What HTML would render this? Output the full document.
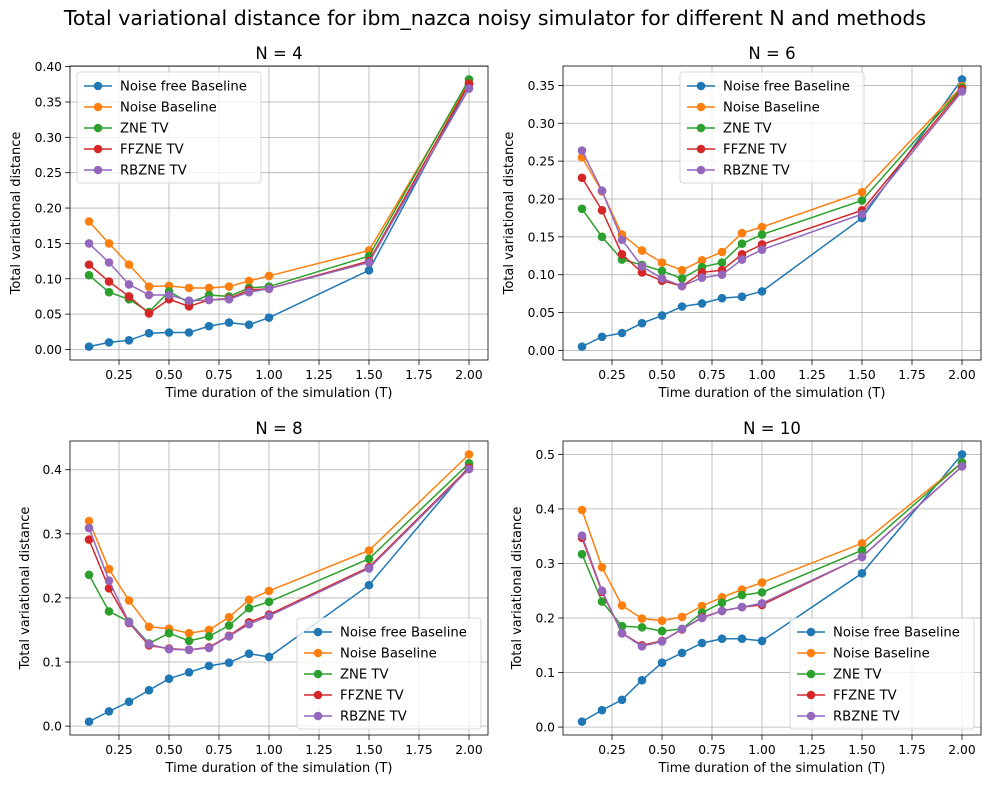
<!DOCTYPE html>
<html><head><meta charset="utf-8"><style>
body{margin:0;background:#fff;font-family:"Liberation Sans","DejaVu Sans",sans-serif;}
svg text{font-family:"DejaVu Sans","Liberation Sans",sans-serif;}
</style></head><body>
<svg id="fig" width="990" height="788" xmlns="http://www.w3.org/2000/svg">
<rect width="990" height="788" fill="#fff"/>
<text x="495" y="25" text-anchor="middle" font-size="20.5" fill="#000">Total variational distance for ibm_nazca noisy simulator for different N and methods</text>
</svg>
<script>
const xs = [0.1,0.2,0.3,0.4,0.5,0.6,0.7,0.8,0.9,1.0,1.5,2.0];
const seriesNames = ["Noise free Baseline","Noise Baseline","ZNE TV","FFZNE TV","RBZNE TV"];
const colors = ["#1f77b4","#ff7f0e","#2ca02c","#d62728","#9467bd"];
const n4_nf  = [.004,.010,.013,.023,.024,.024,.033,.038,.035,.045,.112,.375];
const n4_nb  = [.181,.150,.120,.089,.090,.087,.087,.089,.097,.104,.140,.378];
const n4_zne = [.105,.081,.071,.053,.082,.066,.077,.075,.087,.089,.132,.382];
const n4_ff  = [.120,.096,.075,.051,.071,.061,.070,.072,.084,.086,.125,.376];
const n4_rb  = [.150,.123,.092,.077,.077,.069,.070,.071,.081,.086,.123,.369];
const n6_nf  = [.005,.018,.023,.036,.046,.058,.062,.069,.071,.078,.175,.358];
const n6_nb  = [.255,.210,.153,.132,.116,.106,.119,.130,.155,.163,.209,.349];
const n6_zne = [.187,.150,.120,.113,.105,.095,.110,.116,.141,.153,.198,.347];
const n6_ff  = [.228,.185,.127,.103,.092,.085,.103,.106,.127,.140,.185,.345];
const n6_rb  = [.264,.211,.146,.111,.095,.085,.096,.100,.120,.133,.180,.342];
const n8_nf  = [.007,.023,.038,.056,.074,.084,.094,.099,.113,.108,.220,.405];
const n8_nb  = [.320,.245,.196,.155,.152,.145,.150,.170,.197,.211,.274,.424];
const n8_zne = [.236,.179,.163,.129,.145,.133,.140,.157,.184,.194,.261,.410];
const n8_ff  = [.291,.215,.161,.126,.121,.119,.123,.141,.162,.174,.248,.403];
const n8_rb  = [.309,.227,.162,.128,.120,.119,.122,.140,.159,.172,.246,.401];
const n10_nf  = [.010,.031,.050,.086,.118,.136,.154,.162,.162,.158,.282,.500];
const n10_nb  = [.398,.293,.223,.199,.195,.202,.222,.238,.252,.265,.337,.485];
const n10_zne = [.317,.230,.185,.183,.176,.180,.210,.228,.242,.247,.324,.485];
const n10_ff  = [.347,.248,.172,.150,.158,.179,.201,.213,.220,.224,.312,.478];
const n10_rb  = [.351,.250,.172,.148,.157,.180,.200,.213,.220,.227,.312,.478];
const xTicks = [0.25,0.5,0.75,1.0,1.25,1.5,1.75,2.0];
const xTickLabels = ["0.25","0.50","0.75","1.00","1.25","1.50","1.75","2.00"];
const yTicks4 = [0,0.05,0.1,0.15,0.2,0.25,0.3,0.35,0.4];
const yTicks6 = [0,0.05,0.1,0.15,0.2,0.25,0.3,0.35];
const yTicks8 = [0,0.1,0.2,0.3,0.4];
const yTicks10 = [0,0.1,0.2,0.3,0.4,0.5];

const NS="http://www.w3.org/2000/svg";
const svg=document.getElementById('fig');
function mk(tag,attrs,parent){const e=document.createElementNS(NS,tag);for(const k in attrs)e.setAttribute(k,attrs[k]);(parent||svg).appendChild(e);return e;}

function panel(cfg){
  const {L,T,W,H,title,data,yTicks,dec,legend,name}=cfg;
  const g=mk('g',{});
  
  
  let all=[].concat(...data);
  let mn=Math.min(...all), mx=Math.max(...all), r=mx-mn;
  const y0=mn-0.05*r, y1=mx+0.05*r;
  const xmin=0.1-0.095, xmax=2.0+0.095;
  const sx=v=>L+(v-xmin)/(xmax-xmin)*W;
  const sy=v=>T+H-(v-y0)/(y1-y0)*H;
  xTicks.forEach((t,i)=>{
    const x=sx(t);
    const gl=mk('line',{x1:x,x2:x,y1:T,y2:T+H,stroke:'#b0b0b0','stroke-width':0.8},g);
    
    
    mk('line',{x1:x,x2:x,y1:T+H,y2:T+H+4.9,stroke:'#000','stroke-width':0.8},g);
    const tx=mk('text',{x:x,y:T+H+19,'text-anchor':'middle','font-size':12.3},g);
    tx.textContent=xTickLabels[i];
    
    
  });
  yTicks.forEach(t=>{
    const y=sy(t);
    const gl=mk('line',{x1:L,x2:L+W,y1:y,y2:y,stroke:'#b0b0b0','stroke-width':0.8},g);
    
    
    mk('line',{x1:L-4.9,x2:L,y1:y,y2:y,stroke:'#000','stroke-width':0.8},g);
    const tx=mk('text',{x:L-8,y:y+4.5,'text-anchor':'end','font-size':12.3},g);
    tx.textContent=t.toFixed(dec);
    
    
  });
  data.forEach((d,si)=>{
    const pl=mk('polyline',{points:d.map((v,i)=>sx(xs[i])+','+sy(v)).join(' '),fill:'none',stroke:colors[si],'stroke-width':1.5},g);
    
    
    d.forEach((v,i)=>{
      const c=mk('circle',{cx:sx(xs[i]),cy:sy(v),r:4.3,fill:colors[si]},g);
      
      
    });
  });
  const fr=mk('rect',{x:L,y:T,width:W,height:H,fill:'none',stroke:'#000','stroke-width':0.8},g);
  
  
  const ti=mk('text',{x:L+W/2,y:T-7,'text-anchor':'middle','font-size':16.5},g);
  ti.textContent=title;
  
  
  const xl=mk('text',{x:L+W/2,y:T+H+37,'text-anchor':'middle','font-size':13},g);
  xl.textContent='Time duration of the simulation (T)';
  
  
  const yx=cfg.ylx;
  const yl=mk('text',{x:yx,y:T+H/2,'text-anchor':'middle','font-size':13,transform:`rotate(-90 ${yx} ${T+H/2})`},g);
  yl.textContent='Total variational distance';
  
  
  const [lx,ly]=legend;
  const lg=mk('g',{},g);
  
  
  mk('rect',{x:lx,y:ly,width:184,height:111,rx:3,fill:'#fff','fill-opacity':0.8,stroke:'#ccc','stroke-width':0.8},lg);
  seriesNames.forEach((n,i)=>{
    const yy=ly+14+i*21;
    const e=mk('g',{},lg);
    
    
    mk('line',{x1:lx+7,x2:lx+35,y1:yy,y2:yy,stroke:colors[i],'stroke-width':1.5},e);
    mk('circle',{cx:lx+21,cy:yy,r:4.3,fill:colors[i]},e);
    const t=mk('text',{x:lx+43,y:yy+4.5,'font-size':13.2},e);
    t.textContent=n;
  });
}
panel({name:'panel-n4',L:70,T:66,W:418,H:294,title:'N = 4',data:[n4_nf,n4_nb,n4_zne,n4_ff,n4_rb],yTicks:yTicks4,dec:2,legend:[77,72],ylx:20});
panel({name:'panel-n6',L:563,T:66,W:418,H:294,title:'N = 6',data:[n6_nf,n6_nb,n6_zne,n6_ff,n6_rb],yTicks:yTicks6,dec:2,legend:[680,72],ylx:513});
panel({name:'panel-n8',L:70,T:441,W:418,H:294,title:'N = 8',data:[n8_nf,n8_nb,n8_zne,n8_ff,n8_rb],yTicks:yTicks8,dec:1,legend:[297,618],ylx:29});
panel({name:'panel-n10',L:563,T:441,W:418,H:294,title:'N = 10',data:[n10_nf,n10_nb,n10_zne,n10_ff,n10_rb],yTicks:yTicks10,dec:1,legend:[790,618],ylx:521});
</script>
</body></html>
